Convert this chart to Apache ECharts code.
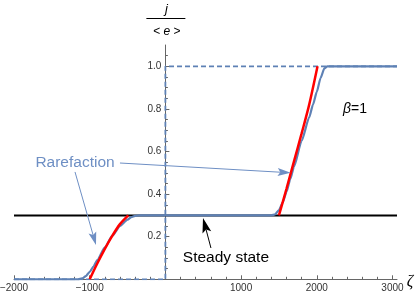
<!DOCTYPE html>
<html><head><meta charset="utf-8">
<script src="https://cdn.jsdelivr.net/npm/echarts@6/dist/echarts.min.js"></script>
<style>html,body{margin:0;padding:0;background:#fff}#c{width:415px;height:295px}</style>
</head><body><div id="c"></div>
<script>
// ---- data ----
const xTickLabels = [-2000, -1000, 1000, 2000, 3000];
const yTickLabels = [0.2, 0.4, 0.6, 0.8, 1.0];
const steadyLine = [[-2000, 0.3], [3060, 0.3]];
const initialStep = [[-2000, 0], [0, 0], [0, 1], [3060, 1]];
const blueProfile = [
  [-2000, 0], [-1150, 0], [-1100, 0.004], [-1050, 0.015], [-1000, 0.035], [-950, 0.06],
  [-900, 0.09], [-800, 0.15], [-700, 0.205], [-600, 0.25], [-500, 0.28], [-450, 0.292],
  [-400, 0.298], [-350, 0.3], [1400, 0.3], [1450, 0.305], [1500, 0.325], [1550, 0.36],
  [1600, 0.41], [1650, 0.47], [1700, 0.53], [1800, 0.65], [1900, 0.76], [1950, 0.82],
  [2000, 0.88], [2050, 0.945], [2100, 0.99], [2140, 1.0], [3060, 1.0]
];
const redLeft = [[-1000, 0], [-900, 0.074], [-800, 0.143], [-700, 0.205], [-600, 0.259], [-490, 0.3]];
const redRight = [[1500, 0.3], [1600, 0.425], [1700, 0.555], [1800, 0.685], [1900, 0.82], [2010, 1.0]];
// annotations (data coordinates)
const rarefactionText = { text: 'Rarefaction', at: [-1194, 0.546] };
const rarefactionArrows = [
  { from: [-1194, 0.504], to: [-917, 0.161] },
  { from: [-600, 0.546], to: [1655, 0.500] }
];
const steadyText = { text: 'Steady state', at: [800, 0.10] };
const steadyArrow = { from: [602, 0.147], to: [497, 0.288] };
const betaText = { at: [2505, 0.797] };

// ---- chart ----
const FONT = 'Liberation Sans, Arial, sans-serif';
const AX = '#666';
const BLUE = '#5E81B5';
const X_MIN = -2000, X_MAX = 3060, G_LEFT = 14, G_RIGHT = 18, W = 415;
const xMinor = [], yMinor = [];
for (let v = -2000; v <= 3000; v += 200) if (v % 1000 !== 0) xMinor.push(v);
for (let k = 1; k <= 21; k++) if (k % 4 !== 0) yMinor.push(+(k * 0.05).toFixed(2));
// y axis sits at x = 0: offset from the grid's left edge
const yOff = -((0 - X_MIN) / (X_MAX - X_MIN)) * (W - G_LEFT - G_RIGHT);

const chart = echarts.init(document.getElementById('c'), null, { renderer: 'canvas' });
const baseX = { type: 'value', min: X_MIN, max: X_MAX, position: 'bottom', splitLine: { show: false } };
const baseY = { type: 'value', min: 0, max: 1.1, position: 'left', offset: yOff, splitLine: { show: false } };
chart.setOption({
  animation: false,
  grid: { left: G_LEFT, right: G_RIGHT, top: 45, bottom: 15.7, containLabel: false, outerBoundsMode: 'none' },
  xAxis: [
    Object.assign({}, baseX, {
      axisLine: { onZero: false, lineStyle: { color: AX, width: 1 } },
      axisTick: { show: true, inside: true, length: 4, lineStyle: { color: AX }, customValues: [-2000, -1000, 0, 1000, 2000, 3000] },
      axisLabel: { customValues: xTickLabels, margin: 4, fontSize: 10, color: '#333', fontFamily: FONT,
        formatter: v => (v < 0 ? '\u2212' + Math.abs(v) : String(v)) }
    }),
    Object.assign({}, baseX, {
      axisLine: { show: false, onZero: false },
      axisTick: { show: true, inside: true, length: 2.5, lineStyle: { color: AX }, customValues: xMinor },
      axisLabel: { show: false }
    })
  ],
  yAxis: [
    Object.assign({}, baseY, {
      axisLine: { onZero: false, lineStyle: { color: AX, width: 1 } },
      axisTick: { show: true, inside: true, length: 4, lineStyle: { color: AX }, customValues: yTickLabels },
      axisLabel: { customValues: yTickLabels, margin: 4, fontSize: 10, color: '#333', fontFamily: FONT,
        formatter: v => v.toFixed(1) }
    }),
    Object.assign({}, baseY, {
      axisLine: { show: false, onZero: false },
      axisTick: { show: true, inside: true, length: 2.5, lineStyle: { color: AX }, customValues: yMinor },
      axisLabel: { show: false }
    })
  ],
  series: [
    { type: 'line', data: steadyLine, symbol: 'none', lineStyle: { color: '#000', width: 2 }, z: 2 },
    { type: 'line', data: initialStep, symbol: 'none', lineStyle: { color: BLUE, width: 1.8, type: [5, 3] }, z: 3 },
    { type: 'line', data: blueProfile, symbol: 'none', smooth: 0.2, smoothMonotone: 'x', lineStyle: { color: BLUE, width: 2.2 }, z: 4 },
    { type: 'line', data: redLeft, symbol: 'none', smooth: 0.3, lineStyle: { color: '#FF0000', width: 2.5 }, z: 5 },
    { type: 'line', data: redRight, symbol: 'none', smooth: 0.3, lineStyle: { color: '#FF0000', width: 2.5 }, z: 5 }
  ]
});

function px(p) { return chart.convertToPixel({ xAxisIndex: 0, yAxisIndex: 0 }, p); }
function arrow(a, b, color, headLen, headW, lw) {
  const p0 = px(a), p1 = px(b);
  const dx = p1[0] - p0[0], dy = p1[1] - p0[1], L = Math.hypot(dx, dy);
  const ux = dx / L, uy = dy / L, nx = -uy, ny = ux;
  const bx = p1[0] - ux * headLen, by = p1[1] - uy * headLen;
  const notch = [p1[0] - ux * headLen * 0.8, p1[1] - uy * headLen * 0.8];
  return [
    { type: 'line', z: 50, shape: { x1: p0[0], y1: p0[1], x2: notch[0], y2: notch[1] }, style: { stroke: color, lineWidth: lw } },
    { type: 'polygon', z: 50, shape: { points: [p1, [bx + nx * headW / 2, by + ny * headW / 2], notch, [bx - nx * headW / 2, by - ny * headW / 2]] }, style: { fill: color } }
  ];
}
function txt(t, p, color, size, extra) {
  const q = px(p);
  return Object.assign({ type: 'text', z: 60, x: q[0], y: q[1], style: Object.assign({
    text: t, fill: color, fontSize: size, fontFamily: FONT,
    align: 'center', verticalAlign: 'middle', textAlign: 'center', textVerticalAlign: 'middle'
  }, extra || {}) });
}
const x0 = px([0, 0])[0];
const g = [];
rarefactionArrows.forEach(r => g.push(...arrow(r.from, r.to, '#6E8FC4', 13, 8, 1)));
g.push(...arrow(steadyArrow.from, steadyArrow.to, '#000', 15, 9, 1));
g.push(txt(rarefactionText.text, rarefactionText.at, '#6E8FC4', 15.5));
g.push(txt(steadyText.text, steadyText.at, '#000', 15.5));
g.push(txt('{i|\u03b2}=1', betaText.at, '#000', 14, { rich: { i: { fontStyle: 'italic', fontSize: 14, fontFamily: FONT, fill: '#000' } } }));
// axis labels
g.push({ type: 'text', z: 60, x: x0 + 1, y: 9, style: { text: 'j', fill: '#000', fontSize: 13, fontStyle: 'italic', fontFamily: FONT, align: 'center', verticalAlign: 'middle', textAlign: 'center', textVerticalAlign: 'middle' } });
g.push({ type: 'line', z: 60, shape: { x1: x0 - 19, y1: 18.5, x2: x0 + 20, y2: 18.5 }, style: { stroke: '#000', lineWidth: 1 } });
g.push({ type: 'text', z: 60, x: x0 + 1.5, y: 32, style: { text: '< {i|e} >', fill: '#000', fontSize: 12, fontFamily: FONT, align: 'center', verticalAlign: 'middle', textAlign: 'center', textVerticalAlign: 'middle', rich: { i: { fontStyle: 'italic', fontSize: 12, fontFamily: FONT, fill: '#000' } } } });
g.push({ type: 'text', z: 60, x: 410, y: 282, style: { text: '\u03b6', fill: '#000', fontSize: 16, fontStyle: 'italic', fontFamily: 'Liberation Serif, DejaVu Serif, serif', align: 'center', verticalAlign: 'middle', textAlign: 'center', textVerticalAlign: 'middle' } });
chart.setOption({ graphic: g });
</script>
</body></html>
